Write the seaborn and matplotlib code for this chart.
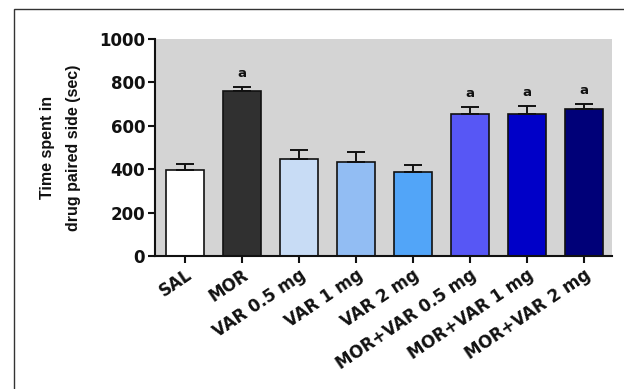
import matplotlib
matplotlib.use("Agg")
import matplotlib.pyplot as plt
from matplotlib.patches import Rectangle
import seaborn as sns
import pandas as pd

groups = ["SAL", "MOR", "VAR 0.5 mg", "VAR 1 mg", "VAR 2 mg",
          "MOR+VAR 0.5 mg", "MOR+VAR 1 mg", "MOR+VAR 2 mg"]
means = [394, 758, 448, 433, 388, 655, 655, 676]
sem = [28, 20, 40, 47, 32, 31, 36, 23]
signif = ["", "a", "", "", "", "a", "a", "a"]
colors = ["#ffffff", "#303030", "#c8dcf5", "#92bdf3", "#52a5f8",
          "#5757f5", "#0000c8", "#000078"]
yticks = [0, 200, 400, 600, 800, 1000]

sns.set_theme(style="ticks")
plt.rcParams["font.family"] = ["DejaVu Sans"]

df = pd.DataFrame({"group": groups, "time": means})

fig = plt.figure(figsize=(6.24, 3.89), dpi=100)
ax = fig.add_axes([0.248, 0.342, 0.733, 0.558])
ax.set_facecolor("#d4d4d4")

sns.barplot(data=df, x="group", y="time", hue="group", palette=colors,
            saturation=1, legend=False, width=0.67, edgecolor="#111111",
            linewidth=1.2, ax=ax, zorder=2)

# one-sided (upper) SEM bars
xs = list(range(len(groups)))
ax.errorbar(xs, means, yerr=[[0] * len(sem), sem], fmt="none",
            ecolor="#111111", elinewidth=1.4, capsize=6.5, capthick=1.4,
            zorder=3)

for x, m, s, lab in zip(xs, means, sem, signif):
    if lab:
        ax.text(x, m + s + 32, lab, ha="center", va="bottom",
                fontsize=9.5, fontweight="bold", color="#111111")

ax.set_xlim(-0.53, 7.5)
ax.set_ylim(0, 1000)
ax.set_yticks(yticks)
ax.set_yticklabels([str(t) for t in yticks], fontsize=12, fontweight="bold")
ax.set_xticks(xs)
ax.set_xticklabels(groups, rotation=34, ha="right", rotation_mode="anchor",
                   fontsize=12, fontweight="bold")
ax.set_xlabel("")
ax.set_ylabel("Time spent in\ndrug paired side (sec)", fontsize=11.5,
              fontweight="bold", family="Liberation Sans",
              linespacing=1.85, color="#111111")
ax.yaxis.set_label_coords(-0.162, 0.5)

for side in ("top", "right"):
    ax.spines[side].set_visible(False)
for side in ("left", "bottom"):
    ax.spines[side].set_linewidth(1.5)
    ax.spines[side].set_color("#111111")
ax.tick_params(axis="both", direction="out", length=5, width=1.5,
               color="#111111", labelcolor="#111111", pad=2)

# outer panel frame
fig.patches.append(Rectangle((14 / 624, -0.1), 1.2, 1 - 9 / 389 + 0.1,
                             transform=fig.transFigure, fill=False,
                             edgecolor="#333333", linewidth=1.0))

fig.savefig("out.png", dpi=100)
